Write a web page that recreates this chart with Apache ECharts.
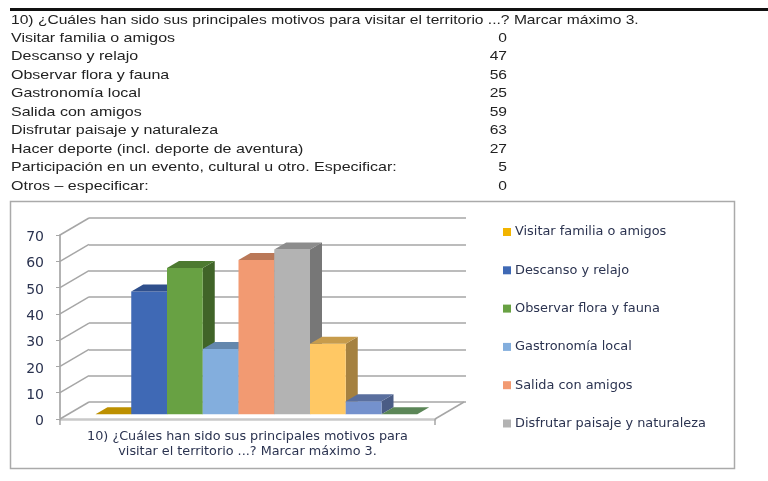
<!DOCTYPE html>
<html>
<head>
<meta charset="utf-8">
<style>html,body{margin:0;padding:0;background:#fff}#main{width:768px;height:481px}</style>
<script src="https://cdn.jsdelivr.net/npm/echarts@6/dist/echarts.min.js"></script>
</head>
<body>
<div id="main"></div>
<script>
var question = '10) ¿Cuáles han sido sus principales motivos para visitar el territorio ...? Marcar máximo 3.';
var questionWrapped = '10) ¿Cuáles han sido sus principales motivos para\nvisitar el territorio ...? Marcar máximo 3.';
var categories = ['Visitar familia o amigos', 'Descanso y relajo', 'Observar flora y fauna', 'Gastronomía local', 'Salida con amigos', 'Disfrutar paisaje y naturaleza', 'Hacer deporte (incl. deporte de aventura)', 'Participación en un evento, cultural u otro. Especificar:', 'Otros – especificar:'];
var values = [0, 47, 56, 25, 59, 63, 27, 5, 0];
var tickValues = [0, 10, 20, 30, 40, 50, 60, 70];
var legendNames = categories.slice(0, 6);

var frontColors = ['#f2b400', '#3f69b5', '#68a143', '#83aedd', '#f29a72', '#b3b3b3', '#ffc864', '#7491cd', '#659a4b'];
var topColors = ['#bd9000', '#2f4f8c', '#4d7a30', '#6387ad', '#ba7858', '#8c8c8c', '#c79c4c', '#5a6f9e', '#5b8657'];
var sideColors = ['#8e6c00', '#263f70', '#406428', '#50708f', '#99604a', '#777777', '#a58140', '#4a5c85', '#3f6a2d'];

var depthX = 12, depthY = 7; // bar depth
var wallX = 29, wallY = 17; // floor and wall depth

var chart = echarts.init(document.getElementById('main'));

function barSeries(name, i) {
    return {
        name: name,
        type: 'custom',
        coordinateSystem: 'cartesian2d',
        xAxisIndex: 2,
        yAxisIndex: 2,
        clip: false,
        itemStyle: {color: frontColors[i]},
        data: [[i, values[i]]],
        encode: {x: 0, y: 1},
        renderItem: function (params, api) {
            var top = api.coord([api.value(0), api.value(1)]);
            var base = api.coord([api.value(0), 0]);
            var w = api.size([1, 0])[0];
            var l = top[0] - w / 2, r = top[0] + w / 2;
            var children = [];
            if (base[1] - top[1] > 0) {
                children.push({type: 'polygon', shape: {points: [[r, top[1]], [r + depthX, top[1] - depthY], [r + depthX, base[1] - depthY], [r, base[1]]]}, style: {fill: sideColors[i]}});
                children.push({type: 'rect', shape: {x: l, y: top[1], width: w, height: base[1] - top[1]}, style: {fill: frontColors[i]}});
            }
            children.push({type: 'polygon', shape: {points: [[l, top[1]], [r, top[1]], [r + depthX, top[1] - depthY], [l + depthX, top[1] - depthY]]}, style: {fill: topColors[i]}});
            return {type: 'group', children: children};
        }
    };
}

var wallSeries = {
    type: 'custom',
    coordinateSystem: 'cartesian2d',
    xAxisIndex: 0,
    yAxisIndex: 0,
    silent: true,
    clip: false,
    data: tickValues.map(function (v) { return [0, v]; }),
    encode: {x: 0, y: 1},
    renderItem: function (params, api) {
        var y = api.coord([0, api.value(1)])[1];
        var x = params.coordSys.x;
        var lineStyle = {stroke: '#a6a6a6', lineWidth: 1.5, fill: null};
        var children = [{type: 'line', shape: {x1: x, y1: y, x2: x + wallX, y2: y - wallY}, style: lineStyle}];
        if (api.value(1) === 0) {
            var xr = x + params.coordSys.width;
            children.push({type: 'line', shape: {x1: xr, y1: y, x2: xr + wallX, y2: y - wallY}, style: lineStyle});
        }
        return {type: 'group', children: children};
    }
};

// the table above the chart, stretched because the source is a wide bitmap font
var tableFont = '13px "Liberation Sans"';
function tableCell(text, x, y, align, stretch) {
    return {
        type: 'text', silent: true, x: x, y: y, scaleX: stretch,
        style: {text: text, font: tableFont, fill: '#222', align: align, verticalAlign: 'middle'}
    };
}
var tableText = [tableCell(question, 11, 20, 'left', 1.2)];
categories.forEach(function (c, i) {
    var y = 38 + i * 18.5;
    tableText.push(tableCell(c, 11, y, 'left', 1.23));
    tableText.push(tableCell(String(values[i]), 507, y, 'right', 1.2));
});

var option = {
    backgroundColor: '#fff',
    animation: false,
    grid: [
        {left: 60, top: 235, width: 375, height: 184}, // front, carries the axes
        {left: 89, top: 218, width: 377, height: 184}, // back wall
        {left: 95.5, top: 231.3, width: 321.75, height: 183} // bars
    ],
    xAxis: [
        {
            gridIndex: 0, type: 'category', data: [questionWrapped],
            axisLine: {lineStyle: {color: '#c9c9c9', width: 2.5}},
            axisTick: {show: true, alignWithLabel: false, length: 6, lineStyle: {color: '#a6a6a6', width: 1.5}},
            axisLabel: {color: '#2b3350', fontFamily: 'DejaVu Sans', fontSize: 12.8, lineHeight: 15, margin: 10, interval: 0}
        },
        {gridIndex: 1, type: 'category', data: [''], axisLine: {show: false}, axisTick: {show: false}, axisLabel: {show: false}},
        {gridIndex: 2, type: 'category', data: categories, axisLine: {show: false}, axisTick: {show: false}, axisLabel: {show: false}}
    ],
    yAxis: [
        {
            gridIndex: 0, type: 'value', min: 0, max: 70, interval: 10,
            axisLine: {show: true, lineStyle: {color: '#b3b3b3', width: 2}},
            axisTick: {show: true, length: 4, lineStyle: {color: '#a6a6a6'}},
            axisLabel: {
                margin: 16,
                formatter: '{n|{value}}',
                rich: {n: {color: '#2b3350', fontFamily: 'DejaVu Sans', fontSize: 14, padding: [5, 0, 0, 0]}}
            },
            splitLine: {show: false}
        },
        {
            gridIndex: 1, type: 'value', min: 0, max: 70, interval: 10,
            axisLine: {show: false}, axisTick: {show: false}, axisLabel: {show: false},
            splitLine: {show: true, lineStyle: {color: '#a6a6a6', width: 1.5}}
        },
        {gridIndex: 2, type: 'value', min: 0, max: 70, show: false}
    ],
    legend: {
        data: legendNames,
        orient: 'vertical',
        left: 498,
        top: 219,
        icon: 'rect',
        itemWidth: 8,
        itemHeight: 8,
        itemGap: 22.3,
        selectedMode: false,
        textStyle: {color: '#2b3350', fontFamily: 'DejaVu Sans', fontSize: 12.9, padding: [0, 0, 0, -1], height: 16, lineHeight: 16}
    },
    graphic: {
        elements: [
            {type: 'rect', silent: true, z: -1, shape: {x: 10.5, y: 201.5, width: 724, height: 267}, style: {fill: '#fff', stroke: '#aaaaaa', lineWidth: 1.5}},
            {type: 'rect', silent: true, shape: {x: 10, y: 8, width: 758, height: 3}, style: {fill: '#111'}}
        ].concat(tableText)
    },
    series: [wallSeries].concat(categories.map(barSeries))
};
chart.setOption(option);
</script>
</body>
</html>
